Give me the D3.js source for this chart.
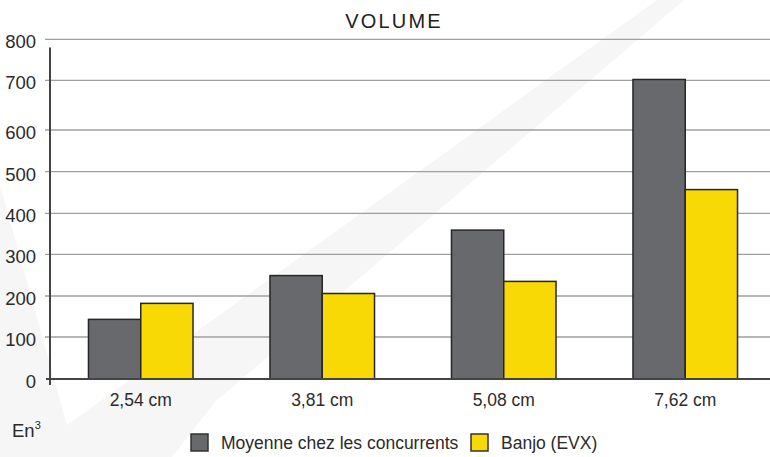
<!DOCTYPE html>
<html>
<head>
<meta charset="utf-8">
<script src="https://cdn.jsdelivr.net/npm/d3@7"></script>
<style>
  body { margin: 0; background: #fff; }
  svg { display: block; }
</style>
</head>
<body>
<svg id="chart" width="770" height="457"></svg>
<script>
const categories = ["2,54 cm", "3,81 cm", "5,08 cm", "7,62 cm"];
const seriesNames = ["Moyenne chez les concurrents", "Banjo (EVX)"];
const concurrents = [143, 249, 359, 702];
const banjo = [182, 206, 235, 457];
const yTicks = [0, 100, 200, 300, 400, 500, 600, 700, 800];
const colors = ["#68696d", "#f8d906"];

const font = "'Liberation Sans', Arial, sans-serif";
const svg = d3.select("#chart");

// filigrane en fond
svg.append("path")
    .attr("d", "M0,185 L67,425 L657,0 L684,0 L215,402 L172,457 L0,457 Z")
    .attr("fill", "#f6f6f6");

const x0 = d3.scaleBand()
    .domain(categories)
    .range([50, 776])
    .paddingInner(0.424)
    .paddingOuter(0.212);

const x1 = d3.scaleBand()
    .domain(seriesNames)
    .range([0, x0.bandwidth()]);

// l'axe du graphique d'origine n'est pas regulier
const y = d3.scaleLinear()
    .domain(yTicks)
    .range([379, 337, 296, 254.3, 213.3, 171.7, 130, 80.3, 39.3]);

svg.append("g")
    .selectAll("line")
    .data(yTicks.filter(d => d > 0))
    .enter()
    .append("line")
    .attr("x1", 45)
    .attr("x2", 770)
    .attr("y1", d => y(d))
    .attr("y2", d => y(d))
    .attr("stroke", "#9f9f9f")
    .attr("stroke-width", 1.3);

const yAxis = svg.append("g")
    .attr("transform", "translate(50,0)")
    .call(d3.axisLeft(y).tickValues(yTicks).tickSize(0).tickPadding(14));
yAxis.select(".domain").remove();
yAxis.selectAll("text")
    .attr("dy", "0.45em")
    .style("font-family", font)
    .style("font-size", "18.5px")
    .style("fill", "#2b2b2b");

const rows = categories.map((c, i) => ({ cat: c, values: [concurrents[i], banjo[i]] }));

svg.append("g")
    .selectAll("g")
    .data(rows)
    .enter()
    .append("g")
    .attr("transform", d => `translate(${x0(d.cat)},0)`)
    .selectAll("rect")
    .data(d => d.values.map((v, k) => ({ name: seriesNames[k], value: v, k: k })))
    .enter()
    .append("rect")
    .attr("x", d => x1(d.name))
    .attr("y", d => y(d.value))
    .attr("width", x1.bandwidth())
    .attr("height", d => y(0) - y(d.value))
    .attr("fill", d => colors[d.k])
    .attr("stroke", "#262626")
    .attr("stroke-width", 1.5);

// axes
svg.append("line")
    .attr("x1", 50).attr("x2", 50)
    .attr("y1", 47.5).attr("y2", 385)
    .attr("stroke", "#444").attr("stroke-width", 2);
svg.append("line")
    .attr("x1", 46).attr("x2", 770)
    .attr("y1", y(0)).attr("y2", y(0))
    .attr("stroke", "#444").attr("stroke-width", 2);

svg.append("g")
    .selectAll("text")
    .data(categories)
    .enter()
    .append("text")
    .attr("x", d => x0(d) + x0.bandwidth() / 2)
    .attr("y", 406)
    .attr("text-anchor", "middle")
    .style("font-family", font)
    .style("font-size", "17.5px")
    .style("fill", "#2b2b2b")
    .text(d => d);

svg.append("text")
    .attr("x", 394)
    .attr("y", 28)
    .attr("text-anchor", "middle")
    .style("font-family", font)
    .style("font-size", "20px")
    .style("letter-spacing", "2.2px")
    .style("fill", "#222")
    .text("VOLUME");

const unit = svg.append("text")
    .attr("x", 12)
    .attr("y", 437)
    .style("font-family", font)
    .style("font-size", "18.5px")
    .style("fill", "#2b2b2b");
unit.append("tspan").text("En");
unit.append("tspan")
    .attr("dy", -8)
    .style("font-size", "11px")
    .text("3");

// legende
const legendX = [191, 471];
const legend = svg.append("g")
    .selectAll("g")
    .data(seriesNames)
    .enter()
    .append("g")
    .attr("transform", (d, i) => `translate(${legendX[i]},434)`);
legend.append("rect")
    .attr("width", 17)
    .attr("height", 17)
    .attr("fill", (d, i) => colors[i])
    .attr("stroke", "#333")
    .attr("stroke-width", 1.5);
legend.append("text")
    .attr("x", 30)
    .attr("y", 15)
    .style("font-family", font)
    .style("font-size", "17.5px")
    .style("fill", "#2b2b2b")
    .text(d => d);
</script>
</body>
</html>
